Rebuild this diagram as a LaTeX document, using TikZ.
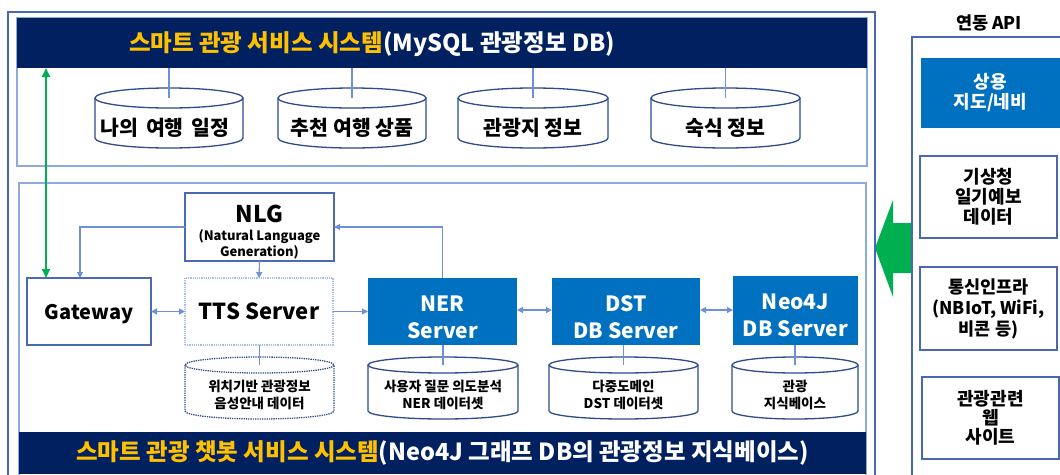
\documentclass[tikz,border=0pt]{standalone}
\usepackage{fontspec}
\setmainfont{Noto Sans CJK KR}
\usetikzlibrary{arrows.meta}

\definecolor{navy}{HTML}{002060}
\definecolor{gold}{HTML}{FFC000}
\definecolor{azure}{HTML}{0070C0}
\definecolor{frameblue}{HTML}{4A68B0}
\definecolor{paleblue}{HTML}{8FAADC}
\definecolor{boxblue}{HTML}{4A6AB4}
\definecolor{dotblue}{HTML}{A9BDE3}
\definecolor{linkblue}{HTML}{6F8FD8}
\definecolor{cylblue}{HTML}{2E4B8C}
\definecolor{okgreen}{HTML}{00B050}

% database drum: #1 style, #2 name of top-centre coordinate,
% #3 left x, #4 right x, #5 top y, #6 bottom y, #7 rim half-height
\newcommand\dbdrum[7]{%
  \pgfmathsetmacro\drumcx{(#3+#4)/2}%
  \pgfmathsetmacro\drumrx{(#4-#3)/2}%
  \pgfmathsetmacro\drumtop{#5+#7}%
  \pgfmathsetmacro\drumbot{#6-#7}%
  \draw[#1] (#3,\drumtop) -- (#3,\drumbot)
     arc[start angle=180,end angle=0,x radius=\drumrx,y radius=#7]
     -- (#4,\drumtop);
  \draw[#1] (\drumcx,\drumtop) ellipse[x radius=\drumrx,y radius=#7];
  \coordinate (#2) at (\drumcx,\drumtop);
}

\begin{document}
\begin{tikzpicture}[x=1pt,y=-1pt,
  every node/.style={inner sep=0pt,outer sep=0pt,font=\bfseries},
  fs/.style 2 args={font=\bfseries\fontsize{#1}{#2}\selectfont},
  link/.style={draw=linkblue,line width=1.1pt},
  tipend/.style={-{Triangle[length=6pt,width=6pt]}},
  tipboth/.style={{Triangle[length=6pt,width=6pt]}-{Triangle[length=6pt,width=6pt]}},
  section/.style={draw=paleblue,line width=1.2pt},
  bar/.style={fill=navy,draw=none},
  plainbox/.style={draw=boxblue,line width=1.1pt,fill=white},
  srvbox/.style={fill=azure},
  srvtext/.style={text=white,align=center,fs={21}{27}},
  drum/.style={draw=cylblue,line width=1.3pt,fill=white},
  dotdrum/.style={draw=cylblue,line width=1.3pt,fill=white,densely dotted},
  apibox/.style={draw=frameblue,line width=1.2pt,align=center,minimum width=137pt},
]

\useasboundingbox (0,0) rectangle (1060,474);
\clip (0,0) rectangle (1060,474);

% ---- link from the external services into the system
\fill[okgreen] (875,248) -- (893,200) -- (893,223) -- (912,223)
  -- (912,273) -- (893,273) -- (893,297) -- cycle;

% ---- outer frame and API panel
\draw[draw=frameblue,line width=1.6pt] (8,12) rectangle (875,490);
\draw[draw=frameblue,line width=1.6pt] (912,37) rectangle (1075,490);

% ---- upper section: tourism service system
\draw[section] (17,18) rectangle (867,166);
\node[bar,minimum width=850pt,minimum height=50pt] (topbar) at (442,43) {};
\node[fs={23.5}{28},text=white] (toptitle) at (372,44)
  {\textcolor{gold}{스마트 관광 서비스 시스템}(MySQL 관광정보 DB)};

\dbdrum{drum}{d1}{95}{243}{88}{148}{10}
\dbdrum{drum}{d2}{278}{426}{88}{148}{10}
\dbdrum{drum}{d3}{458}{608}{88}{148}{10}
\dbdrum{drum}{d4}{651}{800}{88}{148}{10}
\node[fs={20.5}{24}] (d1t) at (165,128) {나의\hspace{8pt}여행\hspace{8pt}일정};
\node[fs={20.5}{24}] (d2t) at (352,128) {추천 여행 상품};
\node[fs={20.5}{24}] (d3t) at (533,128) {관광지 정보};
\node[fs={20.5}{24}] (d4t) at (725.5,128) {숙식 정보};
\foreach \d in {d1,d2,d3,d4}
  \draw[link] (\d |- topbar.south) -- (\d);

% ---- lower section: chatbot service system
\draw[section] (19,183) rectangle (866,490);
\node[bar,minimum width=847pt,minimum height=42pt,text=white,fs={23.5}{28}]
  (botbar) at (442.5,453)
  {\textcolor{gold}{스마트 관광 챗봇 서비스 시스템}(Neo4J 그래프 DB의 관광정보 지식베이스)};

\node[plainbox,minimum width=149pt,minimum height=68pt] (nlg) at (259.5,227) {};
\node[align=center,fs={13}{16}] (nlgtext) at (259.5,232)
  {{\fontsize{23}{26}\selectfont NLG}\\[2pt](Natural Language\\Generation)};
\node[plainbox,minimum width=124pt,minimum height=67pt,text depth=0pt,fs={20}{24}] (gw) at (89,311.5) {Gateway};
\node[draw=dotblue,line width=1.2pt,densely dotted,minimum width=148pt,minimum height=67pt,fs={22}{26}]
  (tts) at (259,311.5) {TTS Server};
\node[srvbox,minimum width=149pt,minimum height=67pt] (ner) at (442.5,311.5) {};
\node[srvbox,minimum width=148pt,minimum height=67pt] (dst) at (626,311.5) {};
\node[srvbox,minimum width=125pt,minimum height=69pt] (neo) at (795.5,310.5) {};
\node[srvtext] (nert) at (442.5,317) {NER\\Server};
\node[srvtext] (dstt) at (626,317) {DST\\DB Server};
\node[srvtext] (neot) at (795.5,315.5) {Neo4J\\DB Server};

\dbdrum{dotdrum}{c1}{185}{334}{357}{419}{8}
\dbdrum{drum}{c2}{368}{518}{357}{419}{8}
\dbdrum{drum}{c3}{549}{698}{357}{419}{8}
\dbdrum{drum}{c4}{732}{858}{357}{419}{8}
\node[align=center,fs={13.5}{17}] (c1t) at (259.5,395) {위치기반 관광정보\\음성안내 데이터};
\node[align=center,fs={13.5}{17}] (c2t) at (443,395) {사용자 질문 의도분석\\NER 데이터셋};
\node[align=center,fs={13.5}{17}] (c3t) at (623.5,395) {다중도메인\\DST 데이터셋};
\node[align=center,fs={13.5}{17}] (c4t) at (795,395) {관광\\지식베이스};
\draw[link] (tts.south -| c1) -- (c1);
\draw[link] (ner.south -| c2) -- (c2);
\draw[link] (dst.south -| c3) -- (c3);
\draw[link] (neo.south -| c4) -- (c4);

% ---- message flow
\draw[link,tipend] (nlg.west) -| ([xshift=-9pt]gw.north);
\draw[link,tipend] (ner.north) |- (nlg.east);
\draw[link,tipend] (nlg.south) -- (tts.north);
\draw[link,tipboth] (gw.east) -- (tts.west);
\draw[link,tipend] (tts.east) -- (ner.west);
\draw[link,tipboth] ([yshift=1.5pt]ner.east) -- ([yshift=1.5pt]dst.west);
\draw[link,tipboth] ([yshift=1.5pt]dst.east) -- ([yshift=1.5pt]dst.east -| neo.west);

\coordinate (gtop) at (46,68);
\draw[okgreen,line width=2.2pt,{Triangle[length=9pt,width=8pt]}-{Triangle[length=9pt,width=8pt]}]
  (gtop) -- (gtop |- gw.north);

% ---- external APIs
\node[fs={17.5}{20}] (apititle) at (989,23) {연동 API};
\node[fill=azure,text=white,align=center,minimum width=139pt,minimum height=70pt,fs={18}{20}]
  (apimap) at (990.5,93) {상용\\지도/네비};
\node[apibox,minimum height=82pt,fs={18}{20}] (apiwx) at (988.5,197) {기상청\\일기예보\\데이터};
\node[apibox,minimum height=83pt,fs={17.5}{21}] (apinet) at (988.5,308.5) {통신인프라\\(NBIoT, WiFi,\\비콘 등)};
\node[apibox,minimum height=82pt,fs={18}{19}] (apiweb) at (990.5,418) {관광관련\\웹\\사이트};

\end{tikzpicture}
\end{document}
